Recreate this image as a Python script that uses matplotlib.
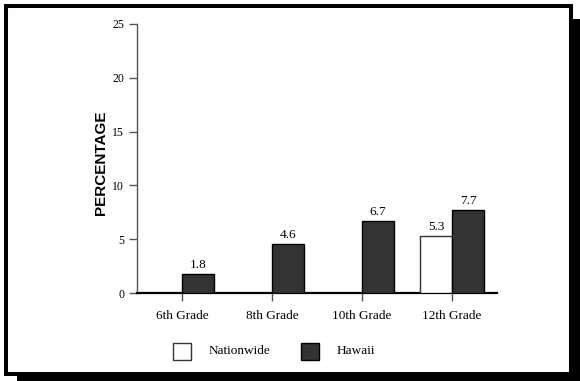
import numpy as np
import matplotlib
matplotlib.use('Agg')
import matplotlib.pyplot as plt
from matplotlib.patches import Rectangle

# data
grades = ['6th Grade', '8th Grade', '10th Grade', '12th Grade']
nationwide = [np.nan, np.nan, np.nan, 5.3]
hawaii = [1.8, 4.6, 6.7, 7.7]
yticks = [0, 5, 10, 15, 20, 25]

serif = 'Liberation Serif'
W, H = 580, 381

fig = plt.figure(figsize=(W / 100, H / 100), dpi=100)
fig.patch.set_facecolor('white')

# shadow + framed box
fig.patches.append(Rectangle((17 / W, 0), (W - 17) / W, (H - 19) / H,
                             transform=fig.transFigure, facecolor='black',
                             edgecolor='none', zorder=0))
fig.patches.append(Rectangle((6 / W, 7 / H), 565 / W, 368 / H,
                             transform=fig.transFigure, facecolor='white',
                             edgecolor='black', linewidth=2.9, zorder=1))

ax = fig.add_axes([137 / W, 88 / H, 360 / W, 269 / H])
ax.set_zorder(2)
ax.patch.set_visible(False)

x = np.arange(len(grades))
w = 0.355
nat = np.array(nationwide, dtype=float)
haw = np.array(hawaii, dtype=float)
m = ~np.isnan(nat)
b1 = ax.bar(x[m] - w, nat[m], width=w, align='edge', color='white',
            edgecolor='#333333', linewidth=1.0, zorder=3)
b2 = ax.bar(x, haw, width=w, align='edge', color='#333333',
            edgecolor='black', linewidth=1.0, zorder=3)

for bars, vals in ((b1, nat[m]), (b2, haw)):
    for r, v in zip(bars, vals):
        ax.annotate(f'{v:.1f}', (r.get_x() + r.get_width() / 2, v),
                    xytext=(0, 2), textcoords='offset points',
                    ha='center', va='bottom', fontsize=9.5, family=serif)

ax.set_xlim(-0.5, 3.5)
ax.set_ylim(0, 25)
ax.set_xticks(x)
ax.set_xticklabels(grades, fontsize=9.5, family=serif)
ax.set_yticks(yticks)
ax.set_yticklabels([str(t) for t in yticks], fontsize=8.5, family=serif)

for s in ('top', 'right'):
    ax.spines[s].set_visible(False)
ax.spines['left'].set_color('#555555')
ax.spines['left'].set_linewidth(1.0)
ax.spines['bottom'].set_color('black')
ax.spines['bottom'].set_linewidth(1.6)
ax.tick_params(axis='x', direction='out', length=5.8, width=1, color='#555555', pad=6.5)
ax.tick_params(axis='y', direction='out', length=5.8, width=1, color='#555555', pad=3.5)

fig.text(101 / W, (H - 163) / H, 'PERCENTAGE', rotation=90, ha='center',
         va='center', fontsize=11, fontweight='bold', family='Liberation Sans',
         zorder=3)

# legend
fig.patches.append(Rectangle((173 / W, 21 / H), 18 / W, 17 / H,
                             transform=fig.transFigure, facecolor='white',
                             edgecolor='#333333', linewidth=1.0, zorder=3))
fig.patches.append(Rectangle((301 / W, 21 / H), 18 / W, 17 / H,
                             transform=fig.transFigure, facecolor='#333333',
                             edgecolor='black', linewidth=1.0, zorder=3))
fig.text(209 / W, 29.5 / H, 'Nationwide', ha='left', va='center',
         fontsize=9.5, family=serif, zorder=3)
fig.text(337 / W, 29.5 / H, 'Hawaii', ha='left', va='center',
         fontsize=9.5, family=serif, zorder=3)

fig.savefig('out.png', dpi=100)
